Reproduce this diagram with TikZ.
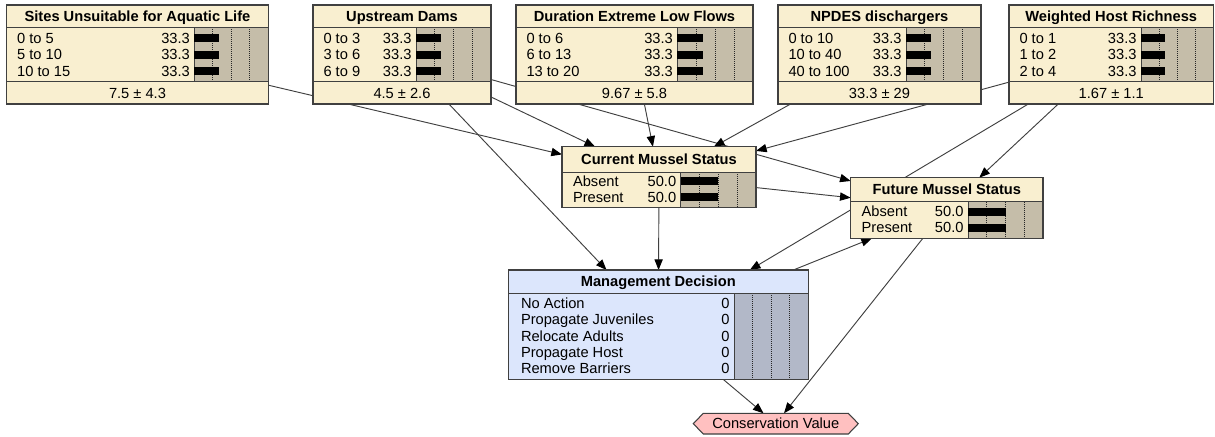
\documentclass[tikz,border=0pt]{standalone}
\usepackage{fontspec}
\setmainfont{Liberation Sans}
\usetikzlibrary{arrows.meta,fit,backgrounds}

\definecolor{cream}{RGB}{249,239,208}
\definecolor{tanbar}{RGB}{197,189,169}
\definecolor{decblue}{RGB}{220,230,252}
\definecolor{decbar}{RGB}{178,184,200}
\definecolor{utilpink}{RGB}{255,192,192}
\definecolor{frame}{RGB}{64,64,64}
\definecolor{wire}{RGB}{64,64,64}

\tikzset{
  nodebody/.style={rectangle, inner sep=0pt, outer sep=0pt},
  frameline/.style={draw=frame, line width=0.9pt},
  rule/.style={draw=frame, line width=0.75pt},
  gridline/.style={draw=black!85, line width=0.6pt, dash pattern=on 0.75pt off 0.75pt},
  lbl/.style={inner sep=0pt, outer sep=0pt, font=\fontsize{11}{13}\selectfont, text=black},
  ttl/.style={inner sep=0pt, outer sep=0pt, font=\fontsize{11}{13}\selectfont\bfseries, text=black},
  edge/.style={draw=wire, line width=0.7pt, -{Triangle[length=8pt,width=6.2pt,color=black]}},
}

% body of a probability node: #1 name, #2 left, #3 top, #4 right, #5 bottom,
% #6 left edge of the bar area, #7 rule under the title, #8 rule under the states
\newcommand{\cptframe}[8]{%
  \node[nodebody, fill=bodycol, fit={(#2,#3) (#4,#5)}] (#1) {};
  \fill[barcol] (#6,#7) rectangle (#4,#8);
  \foreach \q in {0.25,0.5,0.75}
    \draw[gridline] ({#6+\q*(#4-#6)},#7) -- ({#6+\q*(#4-#6)},#8);
  \draw[rule] (#2,#7) -- (#4,#7);
  \draw[rule] (#2,#8) -- (#4,#8);
  \draw[rule] (#6,#7) -- (#6,#8);
}

% a node of the top row: #1 name, #2 left, #3 right, #4 bar-area left, #5 title, #6 mean, #7 state labels
\newcommand{\topcpt}[7]{%
  \cptframe{#1}{#2}{5}{#3}{104}{#4}{27.3}{81.7}
  \node[ttl, anchor=base] (#1-title) at ({(#2+#3)/2},21.5) {#5};
  \node[lbl, anchor=base] (#1-mean) at ({(#2+#3)/2},98) {#6};
  \foreach \lab [count=\i] in {#7} {
    \pgfmathsetmacro\ry{38.3+16.3*(\i-1)}
    \node[lbl, anchor=base west] (#1-s\i) at (#2+10.5,\ry+5.2) {\lab};
    \node[lbl, anchor=base east] (#1-v\i) at (#4-4.5,\ry+5.2) {33.3};
    \fill[black] (#4,\ry-4) rectangle ({#4+0.333*(#3-#4)},\ry+4);
  }
  \draw[frameline] (#1.north west) rectangle (#1.south east);
}

% a two-state node: #1 name, #2 left, #3 top, #4 right, #5 bottom, #6 bar-area left, #7 title rule, #8 title, #9 first row
\newcommand{\twocpt}[9]{%
  \cptframe{#1}{#2}{#3}{#4}{#5}{#6}{#7}{#5}
  \node[ttl, anchor=base] (#1-title) at ({(#2+#4)/2},{(#3+#7)/2+5.2}) {#8};
  \foreach \lab [count=\i] in {Absent,Present} {
    \pgfmathsetmacro\ry{#9+16*(\i-1)}
    \node[lbl, anchor=base west] (#1-s\i) at (#2+11,\ry+5.2) {\lab};
    \node[lbl, anchor=base east] (#1-v\i) at (#6-4.5,\ry+5.2) {50.0};
    \fill[black] (#6,\ry-4) rectangle ({#6+0.5*(#4-#6)},\ry+4);
  }
  \draw[frameline] (#1.north west) rectangle (#1.south east);
}

\begin{document}
\begin{tikzpicture}[x=0.75pt, y=-0.75pt]
\useasboundingbox (0,0) rectangle (1215,436);

% ---- chance nodes ----
\colorlet{bodycol}{cream}
\colorlet{barcol}{tanbar}
\topcpt{sites}{6.7}{268.3}{194.3}{Sites Unsuitable for Aquatic Life}{7.5 ± 4.3}{0 to 5,5 to 10,10 to 15}
\topcpt{dams}{313}{491}{416}{Upstream Dams}{4.5 ± 2.6}{0 to 3,3 to 6,6 to 9}
\topcpt{flows}{516}{753}{677.3}{Duration Extreme Low Flows}{9.67 ± 5.8}{0 to 6,6 to 13,13 to 20}
\topcpt{npdes}{778}{981}{906}{NPDES dischargers}{33.3 ± 29}{0 to 10,10 to 40,40 to 100}
\topcpt{host}{1009}{1213.5}{1141}{Weighted Host Richness}{1.67 ± 1.1}{0 to 1,1 to 2,2 to 4}

\twocpt{cur}{562}{146.7}{756}{207.7}{680.7}{172}{Current Mussel Status}{181}
\twocpt{fut}{850.7}{177.7}{1043}{238.3}{968}{201.7}{Future Mussel Status}{211.7}

% ---- decision node ----
\colorlet{bodycol}{decblue}
\colorlet{barcol}{decbar}
\cptframe{mgmt}{508.3}{270}{808.3}{379.3}{734}{293.3}{379.3}
\node[ttl, anchor=base] (mgmt-title) at (658.3,286.9) {Management Decision};
\foreach \lab [count=\i] in {No Action,Propagate Juveniles,Relocate Adults,Propagate Host,Remove Barriers} {
  \pgfmathsetmacro\ry{303.3+16.25*(\i-1)}
  \node[lbl, anchor=base west] (mgmt-s\i) at (521,\ry+5.2) {\lab};
  \node[lbl, anchor=base east] (mgmt-v\i) at (729.5,\ry+5.2) {0};
}
\draw[frameline] (mgmt.north west) rectangle (mgmt.south east);

% ---- utility node ----
\node[nodebody, fit={(693.3,413.3) (858.3,434)}] (cons) {};
\filldraw[fill=utilpink, draw=frame, line width=0.8pt]
  (cons.west) -- ([xshift=7.5pt]cons.north west) -- ([xshift=-7.5pt]cons.north east)
  -- (cons.east) -- ([xshift=-7.5pt]cons.south east) -- ([xshift=7.5pt]cons.south west) -- cycle;
\node[lbl, anchor=base] (cons-label) at (775.8,428.9) {Conservation Value};

% ---- links, behind the nodes ----
\begin{scope}[on background layer]
  \fill[white] (0,0) rectangle (1215,436);
  \draw[edge] (sites) -- (cur);
  \draw[edge] (dams) -- (cur);
  \draw[edge] (dams) -- (fut);
  \draw[edge] (dams) -- (mgmt);
  \draw[edge] (flows) -- (cur);
  \draw[edge] (npdes) -- (cur);
  \draw[edge] (host) -- (cur);
  \draw[edge] (host) -- (fut);
  \draw[edge] (host) -- (mgmt);
  \draw[edge] (cur) -- (fut);
  \draw[edge] (cur) -- (mgmt);
  \draw[edge] (mgmt) -- (fut);
  \draw[edge] (mgmt) -- (cons);
  \draw[edge] (fut) -- (cons);
\end{scope}
\end{tikzpicture}
\end{document}
